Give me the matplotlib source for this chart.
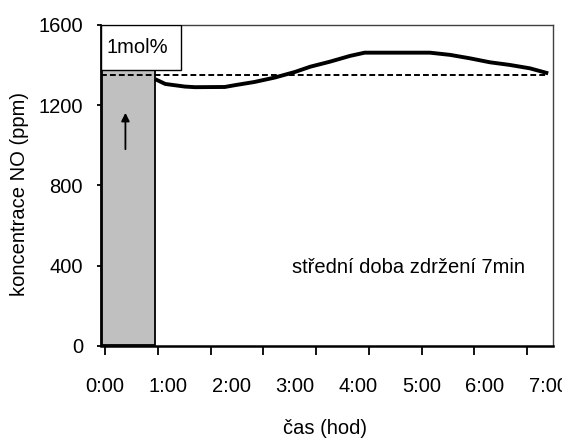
import numpy as np
import matplotlib
matplotlib.use("Agg")
import matplotlib.pyplot as plt
import matplotlib.patches as patches
from matplotlib.ticker import FixedLocator

plt.rcParams['font.family'] = ['Liberation Sans', 'DejaVu Sans']

# time in hours, NO concentration in ppm
cas = [0.79, 0.95, 1.26, 1.42, 1.89, 2.05, 2.36, 2.68, 3.0, 3.24, 3.55,
       3.87, 4.1, 5.13, 5.45, 5.76, 6.08, 6.39, 6.71, 7.0]
konc = [1330, 1306, 1293, 1290, 1291, 1300, 1316, 1338, 1366, 1392, 1417,
        1446, 1462, 1462, 1451, 1434, 1414, 1401, 1384, 1359]

# feed pulse (gray block) and reference level
pulse_end = 0.79
pulse_level = 1376
ref_level = 1350

x_labels = ["0:00", "1:00", "2:00", "3:00", "4:00", "5:00", "6:00", "7:00"]
y_ticks = [0, 400, 800, 1200, 1600]

fs = 14.5

fig = plt.figure(figsize=(5.62, 4.47), dpi=100)
ax = fig.add_axes([0.1797, 0.226, 0.8048, 0.7181])

xmin, xmax = -0.066, 7.08
ax.set_xlim(xmin, xmax)
ax.set_ylim(0, 1600)

# gray pulse block
ax.add_patch(patches.Rectangle((xmin + 0.02, 5), pulse_end - xmin - 0.02, pulse_level - 5,
                               facecolor='#C0C0C0', edgecolor='black', lw=1.3, zorder=2))

# label box
ax.add_patch(patches.Rectangle((xmin, pulse_level), 1.2 - xmin, 1600 - pulse_level,
                               facecolor='white', edgecolor='black', lw=1.0, zorder=3))
ax.text(0.5, 1488, "1mol%", ha='center', va='center', fontsize=fs, zorder=4)

# dashed reference line
ax.plot([xmin, 7.0], [ref_level, ref_level], color='black', lw=1.4,
        linestyle=(0, (3.0, 1.6)), zorder=3)

# measured curve
ax.plot(cas, konc, color='black', lw=2.8, zorder=4, solid_capstyle='butt')

# arrow inside pulse
ax.annotate("", xy=(0.32, 1176), xytext=(0.32, 967),
            arrowprops=dict(arrowstyle='-|>', color='black', lw=1.3,
                            mutation_scale=12), zorder=5)

ax.text(4.8, 390, "střední doba zdržení 7min", ha='center', va='center', fontsize=fs)

# ticks: marks every 50 min, labels every hour (Excel style)
ax.xaxis.remove_overlapping_locs = False
ax.xaxis.set_major_locator(FixedLocator([k * 50 / 60 for k in range(9)]))
ax.xaxis.set_minor_locator(FixedLocator(list(range(8))))
ax.tick_params(axis='x', which='major', direction='out', length=6.5, width=1.3,
               labelbottom=False)
ax.tick_params(axis='x', which='minor', length=0, pad=22, labelsize=fs)
ax.set_xticklabels(x_labels, minor=True)

ax.set_yticks(y_ticks)
ax.tick_params(axis='y', direction='out', length=3, width=1.3, pad=10, labelsize=fs)

ax.spines['bottom'].set_linewidth(1.8)
ax.spines['left'].set_linewidth(1.3)
for s in ['top', 'right']:
    ax.spines[s].set_color('#404040')
    ax.spines[s].set_linewidth(1.0)

fig.text(20 / 562, 1 - 194 / 447, "koncentrace NO (ppm)", rotation=90,
         ha='center', va='center', fontsize=fs)
fig.text(325 / 562, 1 - 428 / 447, "čas (hod)", ha='center', va='center', fontsize=fs)

fig.savefig("out.png", dpi=100)
